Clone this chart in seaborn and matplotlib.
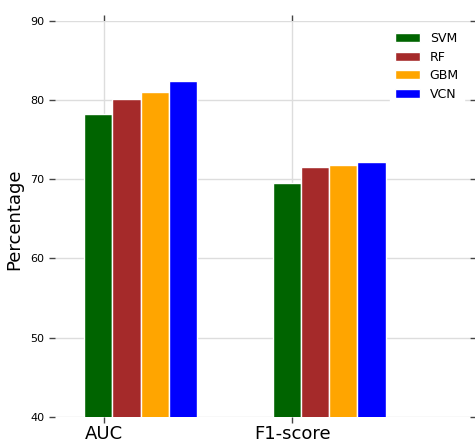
import numpy as np
import pandas as pd
import matplotlib
matplotlib.use("Agg")
import matplotlib.pyplot as plt
import seaborn as sns

# values
metrics = ["AUC", "F1-score"]
models = ["SVM", "RF", "GBM", "VCN"]
auc_scores = [78.2, 80.15, 80.95, 82.45]
f1_scores = [69.5, 71.5, 71.75, 72.2]
colors = ["#006400", "#a52a2a", "#ffa500", "#0000ff"]

# long form table for seaborn
df = pd.DataFrame({
    "metric": [metrics[0]] * len(models) + [metrics[1]] * len(models),
    "model": models + models,
    "value": auc_scores + f1_scores,
})

sns.set_theme(style="whitegrid")
plt.rcParams["font.family"] = ["DejaVu Sans"]
plt.rcParams["text.color"] = "black"
plt.rcParams["axes.labelcolor"] = "black"
plt.rcParams["xtick.color"] = "black"
plt.rcParams["ytick.color"] = "black"

fig, ax = plt.subplots(figsize=(4.75, 4.43), dpi=100)
fig.subplots_adjust(left=0.1158, right=0.9895, top=0.9533, bottom=0.0587)

sns.barplot(data=df, x="metric", y="value", hue="model", hue_order=models,
            palette=colors, saturation=1, width=0.6, errorbar=None,
            edgecolor="white", linewidth=1, ax=ax)

# group ticks sit a bit left of the group centres, as in the original
ax.set_xticks([-0.195, 0.805], labels=metrics, fontsize=13)
ax.set_xlim(-0.454, 1.747)
ax.set_ylim(40, 90)
ax.set_yticks(np.arange(40, 91, 10))
ax.tick_params(axis="y", labelsize=8)
ax.tick_params(axis="x", pad=2)
ax.tick_params(axis="both", which="both", direction="out", length=4, width=1,
               color="#444444", top=True, right=True, bottom=True, left=True,
               labeltop=False, labelright=False)

ax.set_xlabel("")
ax.set_ylabel("Percentage", fontsize=13, labelpad=5)

ax.set_axisbelow(True)
ax.grid(True, color="#dddddd", linewidth=1)
for sp in ax.spines.values():
    sp.set_visible(False)

leg = ax.legend(loc="upper right", fontsize=9, frameon=True, facecolor="white",
                edgecolor="white", framealpha=1, fancybox=False, labelspacing=0.45)

plt.savefig("out.png", dpi=100)
